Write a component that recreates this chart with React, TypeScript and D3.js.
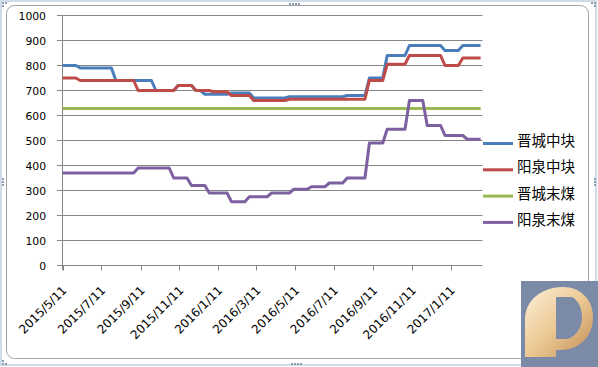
import React, { useRef, useEffect } from 'react';
import * as d3 from 'd3';

// weekly prices, only the weeks where a line changes are kept
const startDate = new Date(2015, 4, 11);
const endDate = new Date(2017, 2, 2);

const seriesNames = ['晋城中块', '阳泉中块', '晋城末煤', '阳泉末煤'];
const seriesColors = ['#4A7EBB', '#BE4B48', '#98B954', '#7D60A0'];

const jcBlockWeeks = [0, 3, 4, 11, 12, 20, 21, 25, 26, 29, 30, 31, 32, 37, 38, 42, 43, 50, 51, 63, 64, 68, 69, 72, 73, 77, 78, 85, 86, 89, 90, 94];
const jcBlockValues = [800, 800, 790, 790, 740, 740, 700, 700, 720, 720, 700, 700, 685, 685, 690, 690, 670, 670, 675, 675, 680, 680, 750, 750, 840, 840, 880, 880, 860, 860, 880, 880];

const yqBlockWeeks = [0, 3, 4, 16, 17, 25, 26, 29, 30, 33, 34, 37, 38, 42, 43, 50, 51, 68, 69, 72, 73, 77, 78, 85, 86, 89, 90, 94];
const yqBlockValues = [750, 750, 740, 740, 700, 700, 720, 720, 700, 700, 695, 695, 680, 680, 660, 660, 665, 665, 740, 740, 805, 805, 840, 840, 800, 800, 830, 830];

const jcFineWeeks = [0, 94];
const jcFineValues = [628, 628];

const yqFineWeeks = [0, 16, 17, 24, 25, 28, 29, 32, 33, 37, 38, 41, 42, 46, 47, 51, 52, 55, 56, 59, 60, 63, 64, 68, 69, 72, 73, 77, 78, 81, 82, 85, 86, 90, 91, 94];
const yqFineValues = [370, 370, 390, 390, 350, 350, 320, 320, 290, 290, 255, 255, 275, 275, 290, 290, 305, 305, 315, 315, 330, 330, 350, 350, 490, 490, 545, 545, 660, 660, 560, 560, 520, 520, 505, 505];

const xTickLabels = ['2015/5/11', '2015/7/11', '2015/9/11', '2015/11/11', '2016/1/11', '2016/3/11', '2016/5/11', '2016/7/11', '2016/9/11', '2016/11/11', '2017/1/11'];
const yTicks = [0, 100, 200, 300, 400, 500, 600, 700, 800, 900, 1000];

const App = () => {
  const ref = useRef<SVGSVGElement>(null);

  useEffect(() => {
    const width = 598;
    const height = 367;
    const svg = d3.select(ref.current);
    svg.selectAll('*').remove();
    svg.attr('width', width).attr('height', height);

    const x = d3.scaleTime().domain([startDate, endDate]).range([62.5, 482.5]);
    const y = d3.scaleLinear().domain([0, 1000]).range([265.5, 15.5]);
    const weekDate = (w: number) => d3.timeDay.offset(startDate, w * 7);
    const parse = d3.timeParse('%Y/%m/%d');

    svg.append('rect').attr('width', width).attr('height', height).attr('fill', '#fff');

    // frame
    svg.append('rect')
      .attr('x', 1).attr('y', 1).attr('width', 595).attr('height', 364)
      .attr('fill', 'none').attr('stroke', '#cfdbe7').attr('stroke-width', 2);
    svg.append('rect')
      .attr('x', 6.5).attr('y', 5.5).attr('width', 582).attr('height', 353).attr('rx', 8)
      .attr('fill', 'none').attr('stroke', '#a3a3a3');
    const dots = [[289, 3], [292, 3], [295, 3], [298, 3], [291, 363], [294, 363], [297, 363], [300, 363],
      [2, 178], [2, 181], [2, 184], [594, 178], [594, 181], [594, 184], [2, 2], [5, 2], [2, 5], [591, 2], [594, 2], [594, 5],
      [2, 360], [2, 363], [5, 363], [594, 360], [594, 363], [591, 363]];
    svg.append('g').selectAll('rect').data(dots).enter().append('rect')
      .attr('x', d => d[0]).attr('y', d => d[1]).attr('width', 2).attr('height', 2).attr('fill', '#8b9cb0');

    // grid and axes
    svg.append('g').selectAll('line').data(yTicks).enter().append('line')
      .attr('x1', 57).attr('x2', 482.5).attr('y1', d => y(d)).attr('y2', d => y(d))
      .attr('stroke', '#868686');
    svg.append('line').attr('x1', 62.5).attr('x2', 62.5).attr('y1', y(1000)).attr('y2', 270)
      .attr('stroke', '#868686');

    svg.append('g').selectAll('text').data(yTicks).enter().append('text')
      .attr('x', 46).attr('y', d => y(d) + 4.3)
      .attr('text-anchor', 'end')
      .style('font-family', 'DejaVu Sans, sans-serif').style('font-size', '10.8px').style('fill', '#000')
      .text(d => d);

    const tickDates = xTickLabels.map(s => parse(s) as Date);
    const xt = svg.append('g').selectAll('g').data(tickDates).enter().append('g');
    xt.append('line')
      .attr('x1', d => Math.round(x(d)) + 0.5).attr('x2', d => Math.round(x(d)) + 0.5)
      .attr('y1', 265.5).attr('y2', 270.5).attr('stroke', '#868686');
    xt.append('text')
      .attr('transform', d => `translate(${x(d) + 5},${291}) rotate(-45)`)
      .attr('text-anchor', 'end')
      .style('font-family', 'DejaVu Sans, sans-serif').style('font-size', '12px').style('fill', '#000')
      .text((d, i) => xTickLabels[i]);

    // lines
    const seriesWeeks = [jcBlockWeeks, yqBlockWeeks, jcFineWeeks, yqFineWeeks];
    const seriesValues = [jcBlockValues, yqBlockValues, jcFineValues, yqFineValues];
    const line = d3.line<[number, number]>()
      .x(d => x(weekDate(d[0])))
      .y(d => y(d[1]));

    seriesWeeks.forEach((weeks, i) => {
      const pts = weeks.map((w, j) => [w, seriesValues[i][j]] as [number, number]);
      svg.append('path')
        .attr('d', line(pts))
        .attr('fill', 'none')
        .attr('stroke', seriesColors[i])
        .attr('stroke-width', 3)
        .attr('stroke-linejoin', 'round');
    });

    // legend
    const lg = svg.append('g').selectAll('g').data(seriesNames).enter().append('g')
      .attr('transform', (d, i) => `translate(483,${143.5 + i * 26.3})`);
    lg.append('line').attr('x1', 0).attr('x2', 30).attr('y1', 0).attr('y2', 0)
      .attr('stroke', (d, i) => seriesColors[i]).attr('stroke-width', 3);
    lg.append('text').attr('x', 34).attr('y', 2.5)
      .style('font-family', 'Noto Sans CJK SC, sans-serif').style('font-size', '14.5px').style('fill', '#000')
      .text(d => d);

    // logo
    const defs = svg.append('defs');
    const grad = defs.append('linearGradient').attr('id', 'gold')
      .attr('x1', '0').attr('y1', '0').attr('x2', '1').attr('y2', '1');
    grad.append('stop').attr('offset', '0').attr('stop-color', '#fdf0d8');
    grad.append('stop').attr('offset', '0.5').attr('stop-color', '#ecc994');
    grad.append('stop').attr('offset', '1').attr('stop-color', '#c08c55');
    svg.append('rect').attr('x', 521).attr('y', 281).attr('width', 77).attr('height', 86).attr('fill', '#7b8aa7');
    svg.append('path')
      .attr('d', 'M525,357 L525,320 C525,299 543,287 563,287 C581,287 593,300 593,317 C593,337 579,350 561,350 L556,350 L556,357 Z M556,297 L572,297 C578,300 582,308 582,317 C582,329 574,339 565,339 L556,339 Z')
      .attr('fill', 'url(#gold)')
      .attr('fill-rule', 'evenodd');
  }, []);

  return <svg ref={ref} style={{ position: 'fixed', left: 0, top: 0 }}></svg>;
};

export default App;
